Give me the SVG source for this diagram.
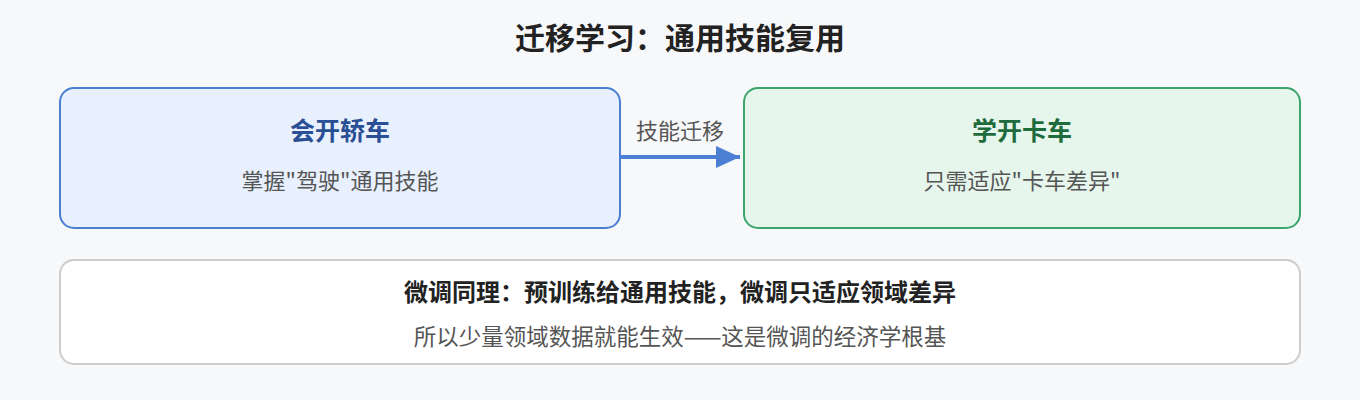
<svg xmlns="http://www.w3.org/2000/svg" width="1360" height="400" viewBox="0 0 1360 400">
<style>
text{font-family:"Noto Sans CJK SC","Noto Sans",sans-serif;text-anchor:middle}
.t{font-size:30px;font-weight:bold;fill:#222}
.h{font-size:25px;font-weight:bold}
.s{font-size:22px;fill:#555}
.b{font-size:24px;font-weight:bold;fill:#222}
</style>
<defs>
<marker id="ah" viewBox="0 0 10 10" refX="10" refY="5" markerWidth="6" markerHeight="5.5" markerUnits="strokeWidth" orient="auto" preserveAspectRatio="none"><path d="M0,0L10,5L0,10z" fill="#4a7fd4"/></marker>
</defs>
<rect width="1360" height="400" fill="#f7f8fa"/>
<text class="t" x="680" y="49">迁移学习：通用技能复用</text>
<g id="sedan">
<rect x="60" y="88" width="560" height="140" rx="14" fill="#e8f0fd" stroke="#4a7fd4" stroke-width="2"/>
<text class="h" x="340" y="140" fill="#2b4f94">会开轿车</text>
<text class="s" x="340" y="189">掌握"驾驶"通用技能</text>
</g>
<g id="truck">
<rect x="744" y="88" width="556" height="140" rx="14" fill="#e6f6ed" stroke="#3aa56c" stroke-width="2"/>
<text class="h" x="1022" y="140" fill="#1e6b3c">学开卡车</text>
<text class="s" x="1022" y="189">只需适应"卡车差异"</text>
</g>
<g id="connectors">
<line x1="621" y1="157" x2="740" y2="157" stroke="#4a7fd4" stroke-width="4" marker-end="url(#ah)"/>
<text class="s" x="680" y="139">技能迁移</text>
</g>
<g id="note">
<rect x="60" y="260" width="1240" height="104" rx="14" fill="#ffffff" stroke="#cccccc" stroke-width="2"/>
<text class="b" x="680" y="301">微调同理：预训练给通用技能，微调只适应领域差异</text>
<text class="s" x="680" y="345" style="font-size:22.5px">所以少量领域数据就能生效——这是微调的经济学根基</text>
</g>
</svg>
